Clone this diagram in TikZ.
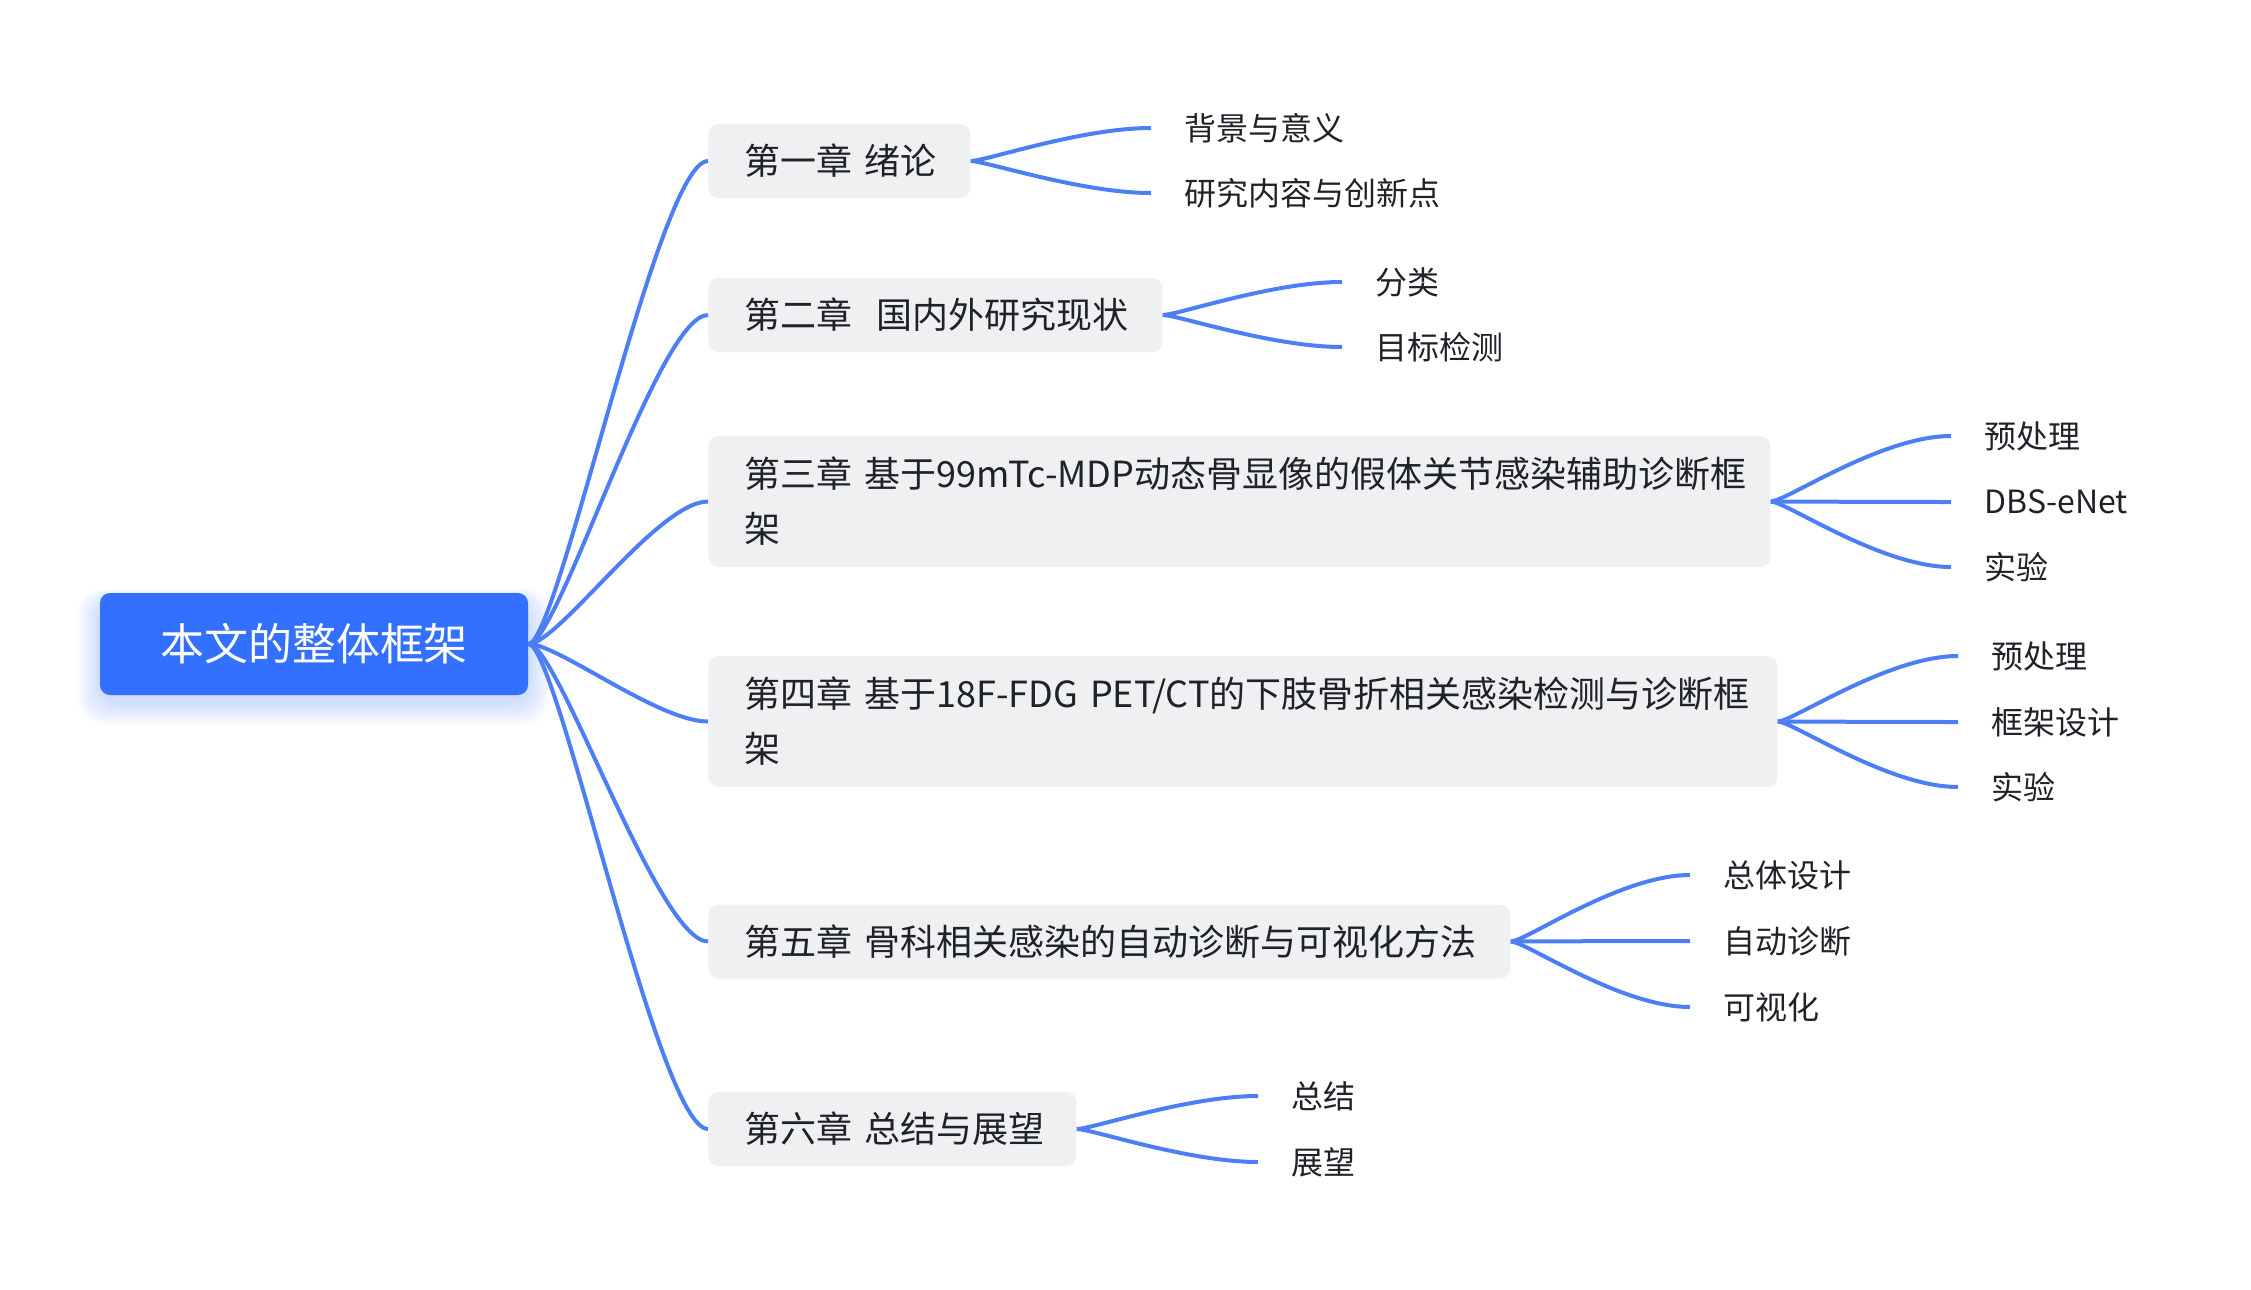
\documentclass[tikz,border=0pt]{standalone}
\usepackage{fontspec}
\setmainfont{Noto Sans CJK SC}
\definecolor{rootblue}{HTML}{3370FF}
\definecolor{linkblue}{HTML}{4C7FF5}
\definecolor{chapgray}{HTML}{EFF0F1}
\definecolor{txt}{HTML}{1F2329}
\tikzset{
  rootbox/.style={fill=rootblue, text=white, rounded corners=5pt, minimum width=214pt, minimum height=51pt, font=\fontsize{22}{26}\selectfont},
  chap/.style={anchor=west, fill=chapgray, rounded corners=5pt, inner xsep=18pt, inner ysep=0pt, align=left, text=txt, font=\fontsize{18}{27.5}\selectfont},
  leaf/.style={anchor=west, inner xsep=16.5pt, text=txt, font=\fontsize{16}{20}\selectfont},
  branch/.style={linkblue, line width=2pt},
}
\begin{document}
\begin{tikzpicture}[x=0.5pt,y=-0.5pt]
\useasboundingbox (0,0) rectangle (2251,1290);
% soft glow under the root
\foreach \s in {2,4,...,22}
  \fill[rootblue, opacity=0.025, rounded corners=12pt] (100-\s,600-\s/2) rectangle (528+\s,702+\s);
\node[rootbox] (main) at (314,644) {本文的整体框架};

\node[chap, text width=95pt, minimum height=37pt] (c1) at (708,161) {第一章~绪论};
\node[chap, text width=191pt, minimum height=37pt] (c2) at (708,315) {第二章~~国内外研究现状};
\node[chap, text width=495pt, minimum height=65.5pt] (c3) at (708,501.5) {第三章~基于99mTc-MDP动态骨显像的假体关节感染辅助诊断框\\架};
\node[chap, text width=498.5pt, minimum height=65.5pt] (c4) at (708,721.5) {第四章~基于18F-FDG~PET/CT的下肢骨折相关感染检测与诊断框\\架};
\node[chap, text width=365pt, minimum height=37pt] (c5) at (708,941.5) {第五章~骨科相关感染的自动诊断与可视化方法};
\node[chap, text width=148pt, minimum height=37pt] (c6) at (708,1129) {第六章~总结与展望};

\node[leaf] (c1a) at (1151,128) {背景与意义};
\node[leaf] (c1b) at (1151,193) {研究内容与创新点};
\node[leaf] (c2a) at (1342,282) {分类};
\node[leaf] (c2b) at (1342,347) {目标检测};
\node[leaf] (c3a) at (1951,436) {预处理};
\node[leaf] (c3b) at (1951,502) {DBS-eNet};
\node[leaf] (c3c) at (1951,567) {实验};
\node[leaf] (c4a) at (1958,656) {预处理};
\node[leaf] (c4b) at (1958,722) {框架设计};
\node[leaf] (c4c) at (1958,787) {实验};
\node[leaf] (c5a) at (1690,875) {总体设计};
\node[leaf] (c5b) at (1690,941) {自动诊断};
\node[leaf] (c5c) at (1690,1007) {可视化};
\node[leaf] (c6a) at (1258,1096) {总结};
\node[leaf] (c6b) at (1258,1162) {展望};

\foreach \c in {c1,c2,c3,c4,c5,c6}
  \draw[branch] (main.east) .. controls +(30,0) and +(-50,0) .. (\c.west);
\foreach \p/\q in {c1/c1a,c1/c1b,c2/c2a,c2/c2b,c3/c3a,c3/c3b,c3/c3c,c4/c4a,c4/c4b,c4/c4c,c5/c5a,c5/c5b,c5/c5c,c6/c6a,c6/c6b}
  \draw[branch] (\p.east) .. controls +(15,0) and +(-70,0) .. (\q.west);
\end{tikzpicture}
\end{document}
